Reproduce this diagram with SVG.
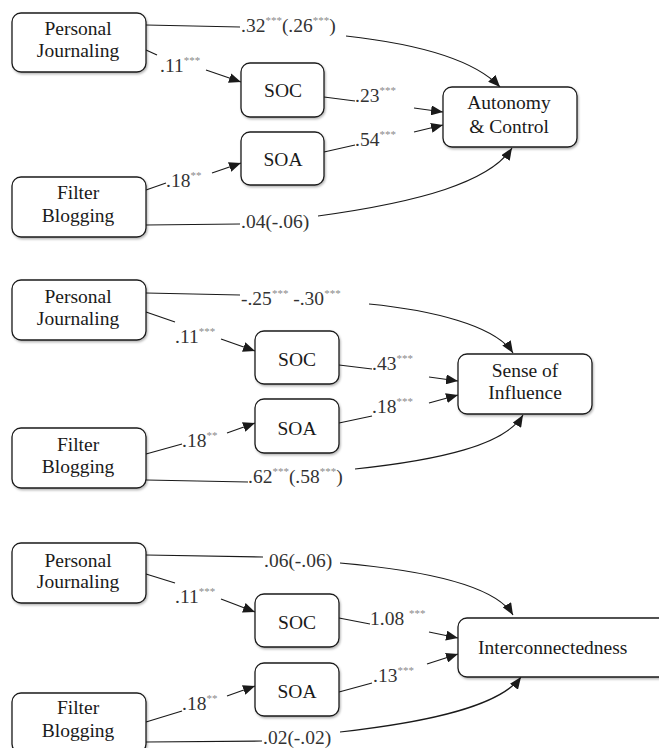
<svg xmlns="http://www.w3.org/2000/svg" width="659" height="748" viewBox="0 0 659 748" font-family="Liberation Serif, Tinos, DejaVu Serif, Noto Serif, serif">
<style>
.box{fill:#fff;stroke:#1a1a1a;stroke-width:1.3;filter:url(#sh)}
.t{font-size:19.5px;fill:#1a1a1a;text-anchor:middle}
.lb{font-size:19.5px;fill:#333}
.st{font-size:11px;fill:#8a8a8a}
.e{fill:none;stroke:#1a1a1a;stroke-width:1.2}
.a{marker-end:url(#arr)}
</style>
<defs>
<filter id="sh" x="-10%" y="-10%" width="125%" height="130%">
<feDropShadow dx="1" dy="1.5" stdDeviation="1" flood-color="#000" flood-opacity="0.3"/>
</filter>
<marker id="arr" markerUnits="userSpaceOnUse" markerWidth="14" markerHeight="10" refX="12" refY="5" orient="auto">
<path d="M0,0 L12,5 L0,10 Z" fill="#1a1a1a"/>
</marker>
</defs>
<rect width="659" height="748" fill="#fff"/>

<g id="connectors">
<!-- panel 1 -->
<path class="e" d="M146,25 L240,27"/>
<path class="e a" d="M346,36 C400,42 470,55 500,87"/>
<path class="e" d="M146,50 L157,55"/>
<path class="e a" d="M206,70 L241,82"/>
<path class="e" d="M146,190 L166,183"/>
<path class="e a" d="M212,173 L241,163"/>
<path class="e" d="M146,225 L240,224"/>
<path class="e a" d="M318,216 C420,202 490,182 512,148"/>
<path class="e" d="M324,97 L355,101"/>
<path class="e a" d="M414,108 L443,112"/>
<path class="e" d="M324,152 L355,145"/>
<path class="e a" d="M414,132 L443,125"/>
<!-- panel 2 -->
<path class="e" d="M146,293 L240,295"/>
<path class="e a" d="M369,304 C430,310 495,325 513,353"/>
<path class="e" d="M146,312 L175,322"/>
<path class="e a" d="M221,339 L255,351"/>
<path class="e" d="M146,454 L182,444"/>
<path class="e a" d="M227,433 L255,423"/>
<path class="e" d="M146,480 L248,482"/>
<path class="e a" d="M355,469 C440,460 505,445 523,415"/>
<path class="e" d="M339,365 L372,369"/>
<path class="e a" d="M429,377 L458,381"/>
<path class="e" d="M339,423 L372,416"/>
<path class="e a" d="M429,403 L458,395"/>
<!-- panel 3 -->
<path class="e" d="M146,555 L263,557"/>
<path class="e a" d="M340,563 C420,570 495,585 513,615"/>
<path class="e" d="M146,574 L175,583"/>
<path class="e a" d="M221,599 L255,612"/>
<path class="e" d="M146,722 L182,711"/>
<path class="e a" d="M227,696 L255,686"/>
<path class="e" d="M146,742 L262,741"/>
<path class="e a" d="M340,732 C430,722 500,706 521,677"/>
<path class="e" d="M339,618 L370,624"/>
<path class="e a" d="M429,632 L458,638"/>
<path class="e" d="M339,692 L372,683"/>
<path class="e a" d="M427,664 L458,654"/>
</g>

<g id="labels">
<text class="lb" x="241" y="32">.32<tspan class="st" dy="-8">***</tspan><tspan dy="8">(.26</tspan><tspan class="st" dy="-8">***</tspan><tspan dy="8">)</tspan></text>
<text class="lb" x="160" y="72">.11<tspan class="st" dy="-8">***</tspan></text>
<text class="lb" x="166" y="187">.18<tspan class="st" dy="-8">**</tspan></text>
<text class="lb" x="241" y="228">.04(-.06)</text>
<text class="lb" x="355" y="102">.23<tspan class="st" dy="-8">***</tspan></text>
<text class="lb" x="355" y="146">.54<tspan class="st" dy="-8">***</tspan></text>

<text class="lb" x="241" y="305">-.25<tspan class="st" dy="-8">***</tspan><tspan dy="8"> -.30</tspan><tspan class="st" dy="-8">***</tspan></text>
<text class="lb" x="175" y="343">.11<tspan class="st" dy="-8">***</tspan></text>
<text class="lb" x="182" y="447">.18<tspan class="st" dy="-8">**</tspan></text>
<text class="lb" x="248" y="483">.62<tspan class="st" dy="-8">***</tspan><tspan dy="8">(.58</tspan><tspan class="st" dy="-8">***</tspan><tspan dy="8">)</tspan></text>
<text class="lb" x="372" y="370">.43<tspan class="st" dy="-8">***</tspan></text>
<text class="lb" x="372" y="413">.18<tspan class="st" dy="-8">***</tspan></text>

<text class="lb" x="264" y="567">.06(-.06)</text>
<text class="lb" x="175" y="603">.11<tspan class="st" dy="-8">***</tspan></text>
<text class="lb" x="182" y="710">.18<tspan class="st" dy="-8">**</tspan></text>
<text class="lb" x="263" y="744">.02(-.02)</text>
<text class="lb" x="370" y="625">1.08 <tspan class="st" dy="-8">***</tspan></text>
<text class="lb" x="373" y="682">.13<tspan class="st" dy="-8">***</tspan></text>
</g>

<!-- panel 1 nodes -->
<g id="p1-personal-journaling"><rect class="box" x="12" y="13" width="134" height="59" rx="9"/><text class="t" x="78" y="35">Personal</text><text class="t" x="78" y="57">Journaling</text></g>
<g id="p1-soc"><rect class="box" x="241" y="63" width="83" height="54" rx="9"/><text class="t" x="283" y="97">SOC</text></g>
<g id="p1-soa"><rect class="box" x="241" y="132" width="83" height="53" rx="9"/><text class="t" x="283" y="166">SOA</text></g>
<g id="p1-filter-blogging"><rect class="box" x="12" y="177" width="134" height="60" rx="9"/><text class="t" x="78" y="199">Filter</text><text class="t" x="78" y="222">Blogging</text></g>
<g id="p1-autonomy-control"><rect class="box" x="443" y="87" width="134" height="60" rx="9"/><text class="t" x="509" y="109">Autonomy</text><text class="t" x="509" y="133">&amp; Control</text></g>

<!-- panel 2 nodes -->
<g id="p2-personal-journaling"><rect class="box" x="12" y="280" width="134" height="60" rx="9"/><text class="t" x="78" y="303">Personal</text><text class="t" x="78" y="325">Journaling</text></g>
<g id="p2-soc"><rect class="box" x="255" y="331" width="84" height="53" rx="9"/><text class="t" x="297" y="366">SOC</text></g>
<g id="p2-soa"><rect class="box" x="255" y="399" width="84" height="54" rx="9"/><text class="t" x="297" y="435">SOA</text></g>
<g id="p2-filter-blogging"><rect class="box" x="12" y="428" width="134" height="60" rx="9"/><text class="t" x="78" y="451">Filter</text><text class="t" x="78" y="473">Blogging</text></g>
<g id="p2-sense-of-influence"><rect class="box" x="458" y="354" width="134" height="60" rx="9"/><text class="t" x="525" y="377">Sense of</text><text class="t" x="525" y="399">Influence</text></g>

<!-- panel 3 nodes -->
<g id="p3-personal-journaling"><rect class="box" x="12" y="543" width="134" height="60" rx="9"/><text class="t" x="78" y="567">Personal</text><text class="t" x="78" y="588">Journaling</text></g>
<g id="p3-soc"><rect class="box" x="255" y="594" width="84" height="53" rx="9"/><text class="t" x="297" y="629">SOC</text></g>
<g id="p3-soa"><rect class="box" x="255" y="663" width="84" height="53" rx="9"/><text class="t" x="297" y="698">SOA</text></g>
<g id="p3-filter-blogging"><rect class="box" x="12" y="693" width="134" height="60" rx="9"/><text class="t" x="78" y="714">Filter</text><text class="t" x="78" y="737">Blogging</text></g>
<g id="p3-interconnectedness"><rect class="box" x="458" y="618" width="210" height="59" rx="9"/><text class="t" x="478" y="654" style="text-anchor:start">Interconnectedness</text></g>
</svg>
